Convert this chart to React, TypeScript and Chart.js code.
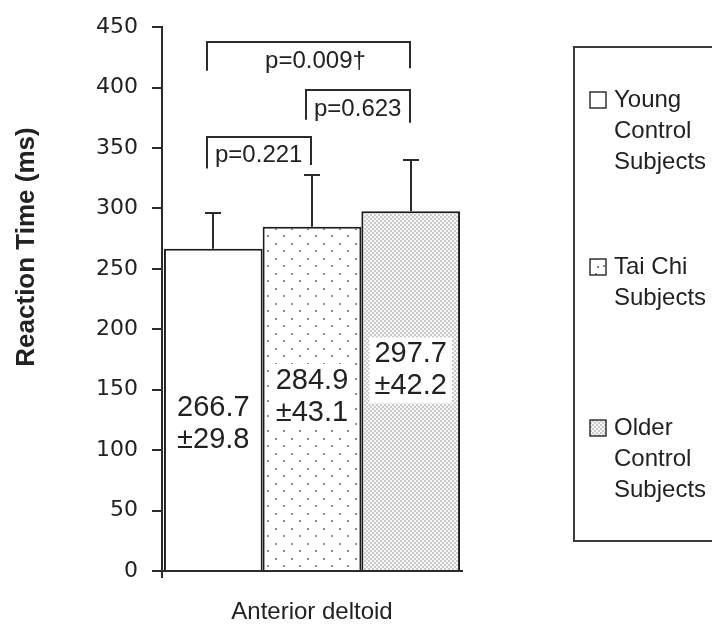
import React, { useEffect, useRef } from 'react';
import { Chart, registerables } from 'chart.js';

Chart.register(...registerables);

// ---- data ----
const categories = ['Anterior deltoid'];
const groups = ['Young Control Subjects', 'Tai Chi Subjects', 'Older Control Subjects'];
const legendLines = [
  ['Young', 'Control', 'Subjects'],
  ['Tai Chi', 'Subjects'],
  ['Older', 'Control', 'Subjects'],
];
const means = [266.7, 284.9, 297.7];
const sds = [29.8, 43.1, 42.2];
const meanLabels = ['266.7', '284.9', '297.7'];
const sdLabels = ['±29.8', '±43.1', '±42.2'];
const yMin = 0;
const yMax = 450;
const yStep = 50;
const pLabels = ['p=0.221', 'p=0.623', 'p=0.009†'];
const pFrom = [0, 1, 0];
const pTo = [1, 2, 2];

const SANS = "'Liberation Sans', Arial, sans-serif";
const INK = '#222222';
const LINE = '#2b2b2b';

// annotation layout (data units on the y scale)
const labelLevels = [122, 144, 166];
const bracketTop = [359, 398, 438];
const bracketLeftEnd = [333, 373.5, 414];
const bracketRightEnd = [336, 371, 416];
const bracketText = [344, 381.6, 421.5];

function makeDotPattern(ctx: CanvasRenderingContext2D) {
  const c = document.createElement('canvas');
  c.width = 16;
  c.height = 15;
  const g = c.getContext('2d')!;
  g.fillStyle = '#ffffff';
  g.fillRect(0, 0, 16, 15);
  g.fillStyle = '#8c8c8c';
  g.fillRect(3, 3, 2, 2);
  g.fillRect(11, 10, 2, 2);
  return ctx.createPattern(c, 'repeat')!;
}

function makeFinePattern(ctx: CanvasRenderingContext2D) {
  const c = document.createElement('canvas');
  c.width = 4;
  c.height = 4;
  const g = c.getContext('2d')!;
  g.fillStyle = '#f8f8f8';
  g.fillRect(0, 0, 4, 4);
  g.fillStyle = '#cacaca';
  g.fillRect(0, 0, 2, 2);
  g.fillRect(2, 2, 2, 2);
  return ctx.createPattern(c, 'repeat')!;
}

export default function App() {
  const ref = useRef<HTMLCanvasElement>(null);

  useEffect(() => {
    const canvas = ref.current!;
    const ctx0 = canvas.getContext('2d')!;
    const fills: (string | CanvasPattern)[] = ['#ffffff', makeDotPattern(ctx0), makeFinePattern(ctx0)];

    const annot = {
      id: 'annot',
      afterDatasetsDraw(chart: any) {
        const ctx: CanvasRenderingContext2D = chart.ctx;
        const ys = chart.scales.y;
        const xs = groups.map((_, i) => chart.getDatasetMeta(i).data[0].x);
        ctx.save();

        // error bars
        ctx.strokeStyle = LINE;
        ctx.lineWidth = 2;
        means.forEach((m, i) => {
          const x = Math.round(xs[i]);
          const y0 = ys.getPixelForValue(m);
          const y1 = Math.round(ys.getPixelForValue(m + sds[i]));
          ctx.beginPath();
          ctx.moveTo(x, y0);
          ctx.lineTo(x, y1);
          ctx.moveTo(x - 8, y1);
          ctx.lineTo(x + 8, y1);
          ctx.stroke();
        });

        // value labels
        ctx.font = `29px ${SANS}`;
        ctx.textAlign = 'center';
        ctx.textBaseline = 'middle';
        means.forEach((_, i) => {
          const cy = ys.getPixelForValue(labelLevels[i]);
          const x = xs[i];
          if (i > 0) {
            const w = Math.max(ctx.measureText(meanLabels[i]).width, ctx.measureText(sdLabels[i]).width);
            ctx.fillStyle = '#ffffff';
            ctx.fillRect(x - w / 2 - 5, cy - 33, w + 10, 66);
          }
          ctx.fillStyle = INK;
          ctx.fillText(meanLabels[i], x, cy - 16);
          ctx.fillText(sdLabels[i], x, cy + 16);
        });

        // significance brackets
        ctx.strokeStyle = LINE;
        ctx.lineWidth = 2;
        ctx.font = `24px ${SANS}`;
        pLabels.forEach((lab, k) => {
          const xl = Math.round(xs[pFrom[k]] - 6);
          const xr = Math.round(xs[pTo[k]] - 1);
          const yt = Math.round(ys.getPixelForValue(bracketTop[k]));
          ctx.beginPath();
          ctx.moveTo(xl, ys.getPixelForValue(bracketLeftEnd[k]));
          ctx.lineTo(xl, yt);
          ctx.lineTo(xr, yt);
          ctx.lineTo(xr, ys.getPixelForValue(bracketRightEnd[k]));
          ctx.stroke();
          ctx.fillStyle = INK;
          const ty = ys.getPixelForValue(bracketText[k]);
          if (pTo[k] - pFrom[k] > 1) {
            ctx.textAlign = 'center';
            ctx.fillText(lab, (xl + xr) / 2 + 7, ty);
          } else {
            ctx.textAlign = 'left';
            ctx.fillText(lab, xl + 8, ty);
          }
        });
        ctx.restore();
      },
      afterDraw(chart: any) {
        const ctx: CanvasRenderingContext2D = chart.ctx;
        ctx.save();
        // y axis title
        ctx.translate(27, 247);
        ctx.rotate(-Math.PI / 2);
        ctx.font = `bold 26px ${SANS}`;
        ctx.fillStyle = INK;
        ctx.textAlign = 'center';
        ctx.textBaseline = 'middle';
        ctx.fillText('Reaction Time (ms)', 0, 0);
        ctx.restore();

        // legend
        ctx.save();
        ctx.strokeStyle = '#3a3a3a';
        ctx.lineWidth = 2;
        ctx.strokeRect(574, 47, 160, 494);
        const starts = [100, 267, 428];
        ctx.font = `24px ${SANS}`;
        ctx.textBaseline = 'middle';
        ctx.textAlign = 'left';
        legendLines.forEach((lines, i) => {
          const y0 = starts[i];
          const sx = 590;
          const sz = 16;
          ctx.fillStyle = fills[i] as any;
          ctx.fillRect(sx, y0 - sz / 2, sz, sz);
          if (i === 1) {
            ctx.fillStyle = '#777';
            ctx.fillRect(sx + 7, y0 - 1, 2, 2);
          }
          ctx.lineWidth = 1.5;
          ctx.strokeStyle = '#333';
          ctx.strokeRect(sx, y0 - sz / 2, sz, sz);
          ctx.fillStyle = INK;
          lines.forEach((t, j) => {
            ctx.fillText(t, 614, y0 + j * 31);
          });
        });
        ctx.restore();
      },
    };

    const chart = new Chart(canvas, {
      type: 'bar',
      data: {
        labels: categories,
        datasets: groups.map((g, i) => ({
          label: g,
          data: [means[i]],
          backgroundColor: fills[i] as any,
          borderColor: '#1c1c1c',
          borderWidth: 2,
          categoryPercentage: 0.987,
          barPercentage: 1,
        })),
      },
      options: {
        responsive: false,
        animation: false,
        devicePixelRatio: 1,
        layout: { padding: { top: 18, right: 250, left: 0, bottom: 0 } },
        plugins: {
          legend: { display: false },
          tooltip: { enabled: false },
          title: { display: false },
        },
        scales: {
          x: {
            grid: {
              display: true,
              drawOnChartArea: false,
              offset: true,
              tickLength: 7,
              color: (c: any) => (c.index === 0 ? LINE : 'rgba(0,0,0,0)'),
              lineWidth: 2,
            },
            border: { display: true, color: LINE, width: 2 },
            ticks: { font: { family: SANS, size: 24 }, color: INK, padding: 20 },
            afterFit: (s: any) => {
              s.height = 62;
            },
          },
          y: {
            min: yMin,
            max: yMax,
            ticks: {
              stepSize: yStep,
              font: { family: "'DejaVu Sans', sans-serif", size: 22 },
              color: INK,
              padding: 14,
            },
            grid: { drawOnChartArea: false, tickLength: 10, color: LINE, lineWidth: 2 },
            border: { display: true, color: LINE, width: 2 },
            afterFit: (s: any) => {
              s.width = 162;
            },
          },
        },
      },
      plugins: [annot],
    });
    return () => chart.destroy();
  }, []);

  return (
    <div style={{ position: 'fixed', left: 0, top: 0, width: 712, height: 633, background: '#fff' }}>
      <canvas ref={ref} width={712} height={633} style={{ display: 'block', width: 712, height: 633 }} />
    </div>
  );
}
